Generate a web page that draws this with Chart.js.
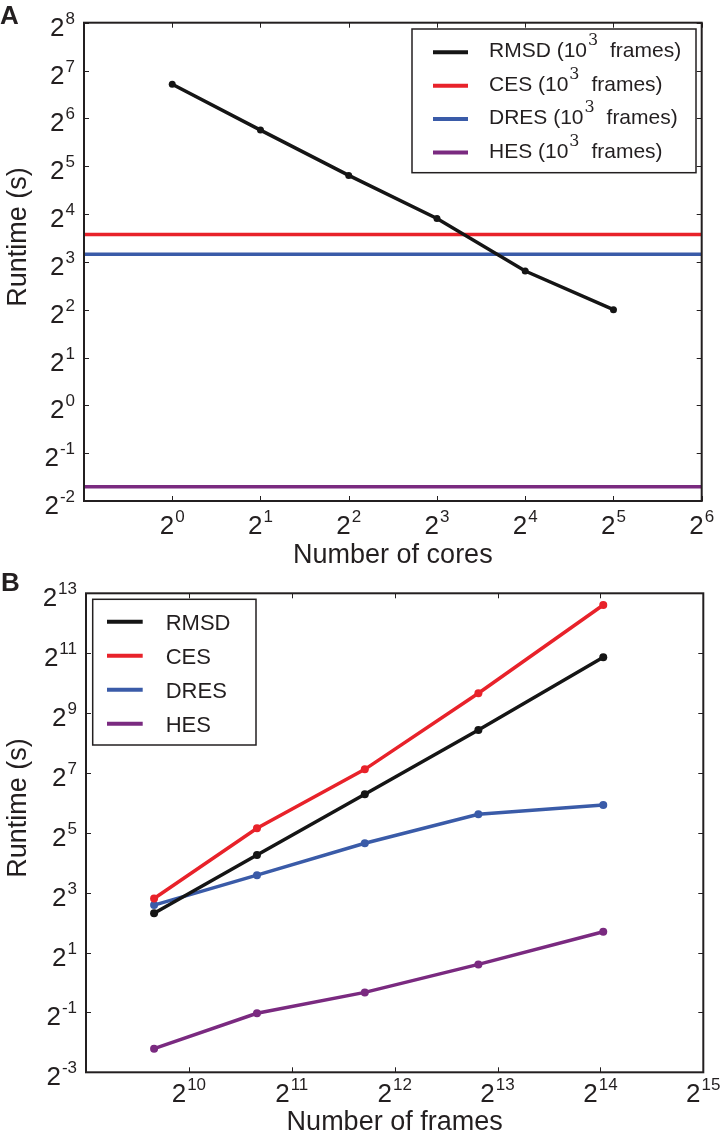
<!DOCTYPE html>
<html>
<head>
<meta charset="utf-8">
<script src="https://cdn.jsdelivr.net/npm/chart.js@4.4.0/dist/chart.umd.min.js"></script>
<style>
  body { margin: 0; background: #fff; width: 720px; height: 1135px; position: relative; overflow: hidden; }
  canvas { position: absolute; left: 0; }
  #chartA { top: 0; }
  #chartB { top: 565px; }
</style>
</head>
<body>
<canvas id="chartA" width="720" height="565"></canvas>
<canvas id="chartB" width="720" height="570"></canvas>
<script>
// ---- data ----
const methods = ['RMSD', 'CES', 'DRES', 'HES'];
const colors = ['#151515', '#e8222a', '#3a5ba8', '#7a2a80'];

// panel A: runtime vs number of cores, 10^3 frames
const coresA = [1, 2, 4, 8, 16, 32];
const rmsdA = [105, 54, 28, 15, 7.0, 4.0];
const flatA = [11.9, 8.93, 0.307]; // CES, DRES, HES (no core scaling)

// panel B: runtime vs number of frames
const framesB = [810, 1620, 3350, 7200, 16700];
const rmsdB = [4.96, 19.1, 78, 346, 1860];
const cesB = [7.0, 35.5, 139, 809, 6250];
const dresB = [6.0, 12.0, 25.1, 49.2, 60.9];
const hesB = [0.216, 0.49, 0.795, 1.52, 3.24];

// tick exponents (base 2) and axis limits
const xTicksA = [0, 1, 2, 3, 4, 5, 6];
const yTicksA = [-2, -1, 0, 1, 2, 3, 4, 5, 6, 7, 8];
const xTicksB = [10, 11, 12, 13, 14, 15];
const yTicksB = [-3, -1, 1, 3, 5, 7, 9, 11, 13];
const xLimA = [-1, 6], yLimA = [-2, 8];
const xLimB = [9, 15], yLimB = [-3, 13];

const FONT = '"Liberation Sans", Arial, Helvetica, sans-serif';
const INK = '#231f20';

function drawPow(ctx, e, x, y, align) {
  // "2" with a raised exponent
  ctx.font = '26px ' + FONT;
  const wb = ctx.measureText('2').width;
  ctx.font = '17px ' + FONT;
  const sup = String(e);
  const ws = ctx.measureText(sup).width;
  const w = wb + 1 + ws;
  let x0 = align === 'right' ? x - w : x - w / 2;
  ctx.textAlign = 'left';
  ctx.font = '26px ' + FONT;
  ctx.fillText('2', x0, y);
  ctx.font = '17px ' + FONT;
  ctx.fillText(sup, x0 + wb + 1, y - 12);
}

const framePlugin = {
  id: 'frame',
  afterDatasetsDraw(chart, args, o) {
    const ctx = chart.ctx, a = chart.chartArea;
    const sx = chart.scales.x, sy = chart.scales.y;
    ctx.save();
    ctx.strokeStyle = INK;
    ctx.fillStyle = INK;
    ctx.lineWidth = 1;
    ctx.beginPath();
    o.xTicks.forEach(e => {
      const px = Math.round(sx.getPixelForValue(2 ** e)) + 0.5;
      ctx.moveTo(px, a.bottom); ctx.lineTo(px, a.bottom - 5);
      ctx.moveTo(px, a.top); ctx.lineTo(px, a.top + 5);
    });
    o.yTicks.forEach(e => {
      const py = Math.round(sy.getPixelForValue(2 ** e)) + 0.5;
      ctx.moveTo(a.left, py); ctx.lineTo(a.left + 5, py);
      ctx.moveTo(a.right, py); ctx.lineTo(a.right - 5, py);
    });
    ctx.stroke();
    ctx.lineWidth = 2;
    ctx.strokeRect(a.left, a.top, a.right - a.left, a.bottom - a.top);

    o.xTicks.forEach(e => drawPow(ctx, e, sx.getPixelForValue(2 ** e), a.bottom + o.xLabelDy, 'center'));
    o.yTicks.forEach(e => drawPow(ctx, e, a.left - 9, sy.getPixelForValue(2 ** e) + 13, 'right'));

    ctx.font = '27px ' + FONT;
    ctx.textAlign = 'center';
    ctx.fillText(o.xTitle, (a.left + a.right) / 2, o.xTitleY);
    ctx.save();
    ctx.translate(26, o.yTitleY);
    ctx.rotate(-Math.PI / 2);
    ctx.fillText(o.yTitle, 0, 0);
    ctx.restore();

    ctx.font = 'bold 26px ' + FONT;
    ctx.textAlign = 'left';
    ctx.fillText(o.panel, o.panelX, o.panelY);

    // legend box
    const L = o.legend;
    ctx.fillStyle = '#fff';
    ctx.fillRect(L.left, L.top, L.right - L.left, L.bottom - L.top);
    ctx.lineWidth = 1.5;
    ctx.strokeStyle = INK;
    ctx.strokeRect(L.left, L.top, L.right - L.left, L.bottom - L.top);
    const shown = chart.data.datasets.filter(d => d.label);
    shown.forEach((d, i) => {
      const hy = L.row0 + L.rowH * i;
      ctx.strokeStyle = d.borderColor;
      ctx.lineWidth = 4;
      ctx.beginPath();
      ctx.moveTo(L.h0, hy); ctx.lineTo(L.h1, hy);
      ctx.stroke();
      ctx.fillStyle = INK;
      ctx.font = L.size + 'px ' + FONT;
      const parts = d.label.split(/\^(\d)/);
      let tx = L.textX;
      const by = hy + L.dy;
      ctx.fillText(parts[0], tx, by);
      tx += ctx.measureText(parts[0]).width;
      if (parts.length > 1) {
        ctx.font = '16px "DejaVu Serif", serif';
        ctx.fillText(parts[1], tx + 1, by - 12);
        tx += ctx.measureText(parts[1]).width + 1;
        ctx.font = L.size + 'px ' + FONT;
        ctx.fillText(parts[2], tx + 6, by);
      }
    });
    ctx.restore();
  }
};

function series(xs, ys, i, label, r) {
  return {
    label: label,
    data: xs.map((x, k) => ({ x: x, y: ys[k] })),
    borderColor: colors[i],
    backgroundColor: colors[i],
    pointBackgroundColor: colors[i],
    borderWidth: 3.5,
    pointRadius: r,
    pointBorderWidth: 0,
    tension: 0,
    fill: false
  };
}

function logAxis(lim) {
  return { type: 'logarithmic', min: 2 ** lim[0], max: 2 ** lim[1], display: false };
}

// ---- panel A ----
const edgesA = [2 ** xLimA[0], 2 ** xLimA[1]];
const dsA = [series(coresA, rmsdA, 0, methods[0] + ' (10^3 frames)', 3.5)];
flatA.forEach((v, k) => {
  dsA.push(series(edgesA, [v, v], k + 1, methods[k + 1] + ' (10^3 frames)', 0));
});

new Chart(document.getElementById('chartA'), {
  type: 'line',
  data: { datasets: dsA },
  options: {
    responsive: false,
    animation: false,
    devicePixelRatio: 1,
    layout: { padding: { left: 84, right: 18.3, top: 22.7, bottom: 64 } },
    scales: { x: logAxis(xLimA), y: logAxis(yLimA) },
    plugins: {
      legend: { display: false },
      tooltip: { enabled: false },
      frame: {
        xTicks: xTicksA, yTicks: yTicksA, xLabelDy: 33,
        xTitle: 'Number of cores', xTitleY: 563,
        yTitle: 'Runtime (s)', yTitleY: 237,
        panel: 'A', panelX: 0, panelY: 24,
        legend: { left: 412, top: 29, right: 696, bottom: 172.7, row0: 52.3, rowH: 33.4,
                  h0: 433, h1: 468, textX: 489, size: 21, dy: 5 }
      }
    }
  },
  plugins: [framePlugin]
});

// ---- panel B ----
const dsB = [
  series(framesB, rmsdB, 0, methods[0], 4),
  series(framesB, cesB, 1, methods[1], 4),
  series(framesB, dresB, 2, methods[2], 4),
  series(framesB, hesB, 3, methods[3], 4)
];

new Chart(document.getElementById('chartB'), {
  type: 'line',
  data: { datasets: dsB },
  options: {
    responsive: false,
    animation: false,
    devicePixelRatio: 1,
    layout: { padding: { left: 86, right: 16.7, top: 28.3, bottom: 62.7 } },
    scales: { x: logAxis(xLimB), y: logAxis(yLimB) },
    plugins: {
      legend: { display: false },
      tooltip: { enabled: false },
      frame: {
        xTicks: xTicksB, yTicks: yTicksB, xLabelDy: 30,
        xTitle: 'Number of frames', xTitleY: 565,
        yTitle: 'Runtime (s)', yTitleY: 243,
        panel: 'B', panelX: 1, panelY: 26,
        legend: { left: 92.7, top: 34.3, right: 256, bottom: 180, row0: 56.7, rowH: 34,
                  h0: 107, h1: 142.7, textX: 165.7, size: 22, dy: 8 }
      }
    }
  },
  plugins: [framePlugin]
});
</script>
</body>
</html>
